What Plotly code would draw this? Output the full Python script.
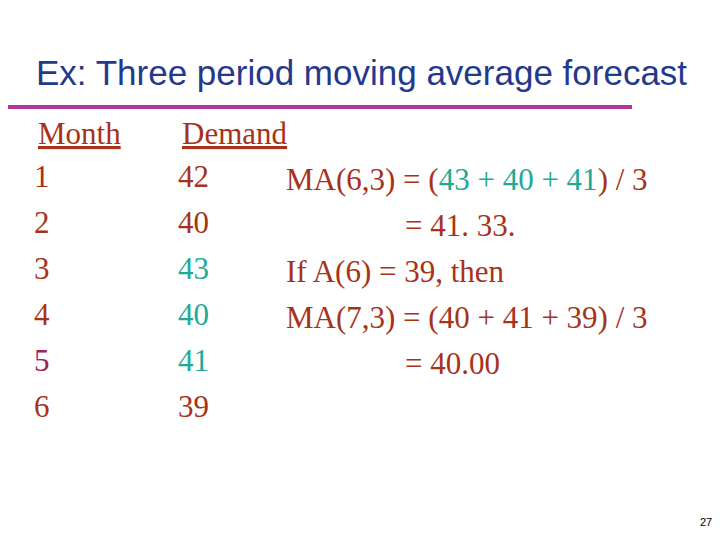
import plotly.graph_objects as go

months = ["1", "2", "3", "4", "5", "6"]
demand = ["42", "40", "43", "40", "41", "39"]
headers = ["Month", "Demand"]
title = "Ex: Three period moving average forecast"
page_no = "27"

BROWN = "#A83218"
TEAL = "#1EAA96"
PLUM = "#A0205A"
NAVY = "#233A8C"
LINE = "#B5339A"

month_colors = [BROWN, BROWN, BROWN, BROWN, PLUM, BROWN]
demand_colors = [BROWN, BROWN, TEAL, TEAL, TEAL, BROWN]

row_y = [179 + 46 * i for i in range(len(months))]
serif = "Liberation Serif, Times New Roman, serif"
FS = 31

fig = go.Figure()
fig.add_trace(go.Scatter(x=[34] * len(months), y=row_y, mode="text", text=months,
                         textposition="middle right",
                         textfont=dict(family=serif, size=FS, color=month_colors),
                         hoverinfo="skip", showlegend=False))
fig.add_trace(go.Scatter(x=[178] * len(demand), y=row_y, mode="text", text=demand,
                         textposition="middle right",
                         textfont=dict(family=serif, size=FS, color=demand_colors),
                         hoverinfo="skip", showlegend=False))

for hx, h in zip([36, 180], headers):
    fig.add_annotation(x=hx, y=133, text=h, showarrow=False, xanchor="left", yanchor="middle",
                       font=dict(family=serif, size=FS, color=BROWN, lineposition="under"))

t = lambda s: f'<span style="color:{TEAL}">{s}</span>'
right_lines = [
    (284, 179, f"MA(6,3) = ({t('43 + 40 + 41')}) / 3"),
    (403, 225, "= 41. 33."),
    (284, 271, "If A(6) = 39, then"),
    (284, 317, "MA(7,3) = (40 + 41 + 39) / 3"),
    (403, 363, "= 40.00"),
]
for x, y, s in right_lines:
    fig.add_annotation(x=x, y=y, text=s, showarrow=False, xanchor="left", yanchor="middle",
                       font=dict(family=serif, size=FS, color=BROWN))

fig.add_annotation(x=34, y=72, text=title, showarrow=False, xanchor="left", yanchor="middle",
                   font=dict(family="Liberation Sans, Arial, sans-serif", size=35, color=NAVY))
fig.add_shape(type="line", x0=0, x1=632, y0=107, y1=107, line=dict(color=LINE, width=4))
fig.add_annotation(x=714, y=522, text=page_no, showarrow=False, xanchor="right", yanchor="middle",
                   font=dict(family="Liberation Sans, Arial, sans-serif", size=11, color="black"))

# page body has an 8px margin, so shift the coordinate window to compensate
fig.update_xaxes(range=[8, 728], visible=False, fixedrange=True)
fig.update_yaxes(range=[548, 8], visible=False, fixedrange=True)
fig.update_layout(width=720, height=540, margin=dict(l=0, r=0, t=0, b=0),
                  plot_bgcolor="white", paper_bgcolor="white")
fig.write_html("out.html")
